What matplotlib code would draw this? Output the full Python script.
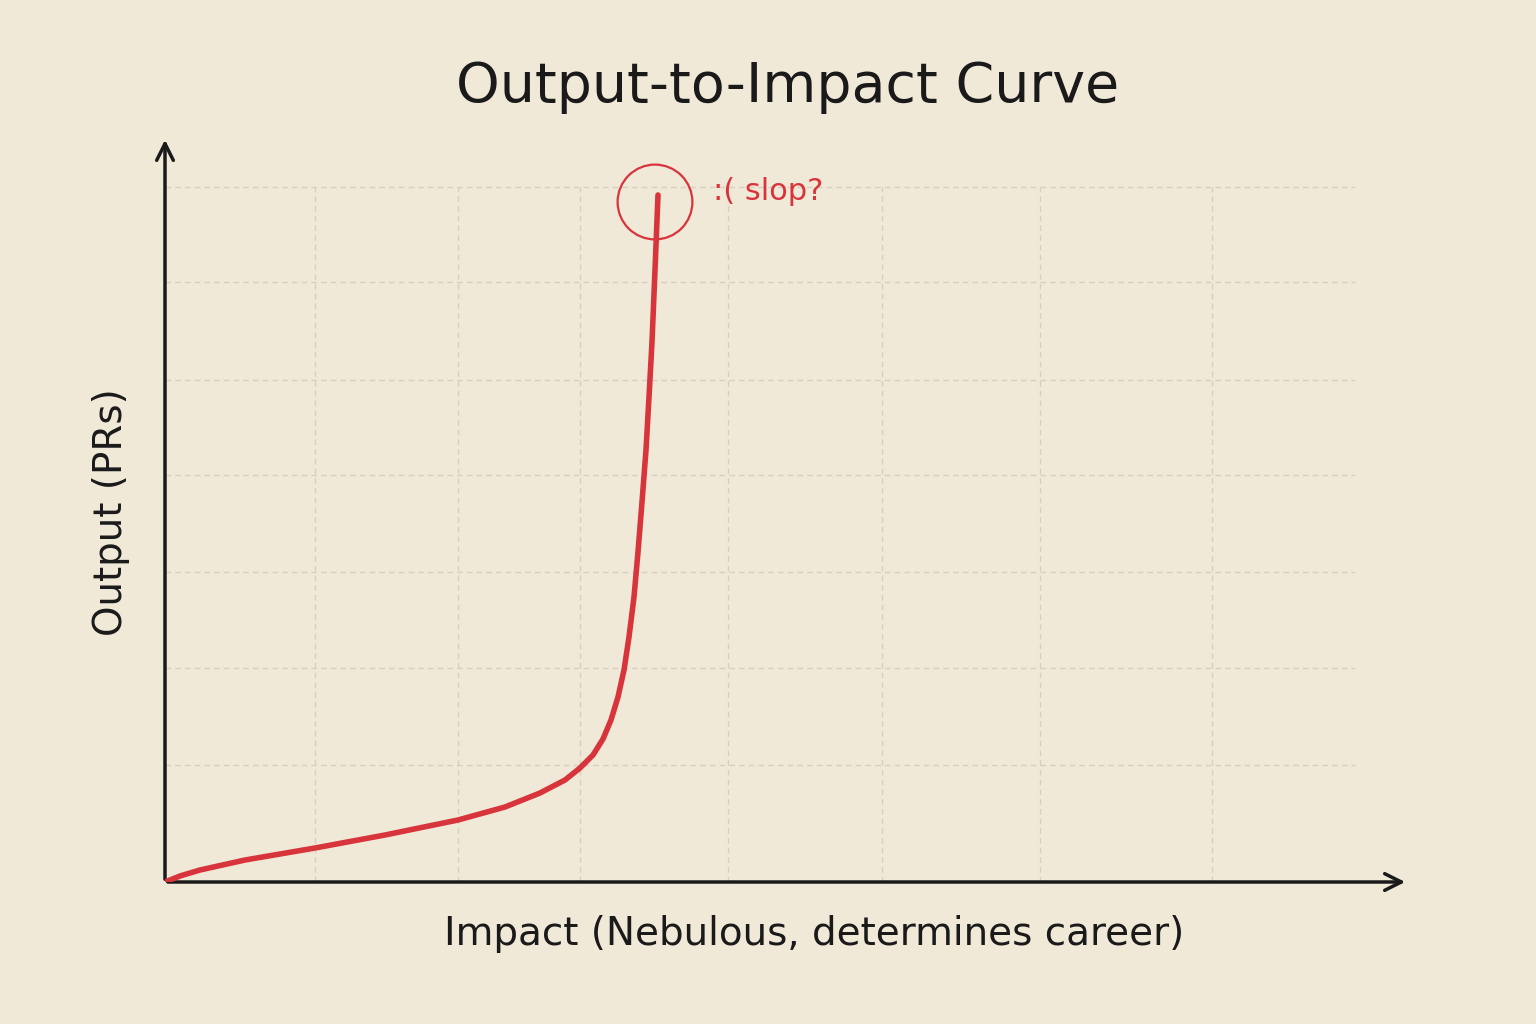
import matplotlib.pyplot as plt
import numpy as np

# curve (impact, output) in arbitrary units
impact = [0, 15, 35, 80, 150, 220, 293, 340, 375, 400, 415, 428, 438, 446, 453,
          459, 464, 469, 473, 477, 481, 484, 487, 490, 493]
output = [0, 6, 12, 22, 34, 47, 62, 75, 89, 102, 114, 127, 143, 162, 185,
          212, 245, 285, 330, 380, 432, 485, 540, 612, 687]

grid_x = [150, 293, 415, 563, 717, 875, 1047]
grid_y = [117, 214, 310, 407, 502, 600, 695]

bg = '#f1e9d8'
red = '#d8343b'

fig = plt.figure(figsize=(15.36, 10.24), dpi=100, facecolor=bg)
ax = fig.add_axes([165 / 1536, 142 / 1024, 1243 / 1536, 745 / 1024])
ax.set_facecolor(bg)
ax.set_xlim(0, 1243)
ax.set_ylim(0, 745)

for gx in grid_x:
    ax.plot([gx, gx], [0, 695], color='#d6cfc0', lw=1, ls=(0, (4, 3)), zorder=1)
for gy in grid_y:
    ax.plot([0, 1190], [gy, gy], color='#d6cfc0', lw=1, ls=(0, (4, 3)), zorder=1)

ax.annotate('', xy=(1243, 0), xytext=(0, 0),
            arrowprops=dict(arrowstyle='->', lw=2.5, color='#1a1a1a', mutation_scale=30))
ax.annotate('', xy=(0, 745), xytext=(0, 0),
            arrowprops=dict(arrowstyle='->', lw=2.5, color='#1a1a1a', mutation_scale=30))

ax.plot(impact, output, color=red, lw=4, solid_capstyle='round',
        solid_joinstyle='round', zorder=3)
ax.scatter([490], [680], s=2900, facecolors='none', edgecolors=red, linewidths=1.6, zorder=4)
ax.text(548, 690, ':( slop?', color=red, fontsize=22, va='center')

for s in ax.spines.values():
    s.set_visible(False)
ax.set_xticks([])
ax.set_yticks([])

fig.text(0.513, 0.915, 'Output-to-Impact Curve', ha='center', va='center', fontsize=40, color='#1a1a1a')
fig.text(0.53, 0.088, 'Impact (Nebulous, determines career)', ha='center', va='center', fontsize=28, color='#1a1a1a')
fig.text(0.072, 0.5, 'Output (PRs)', ha='center', va='center', rotation=90, fontsize=28, color='#1a1a1a')

fig.savefig('out.png', dpi=100, facecolor=bg)
